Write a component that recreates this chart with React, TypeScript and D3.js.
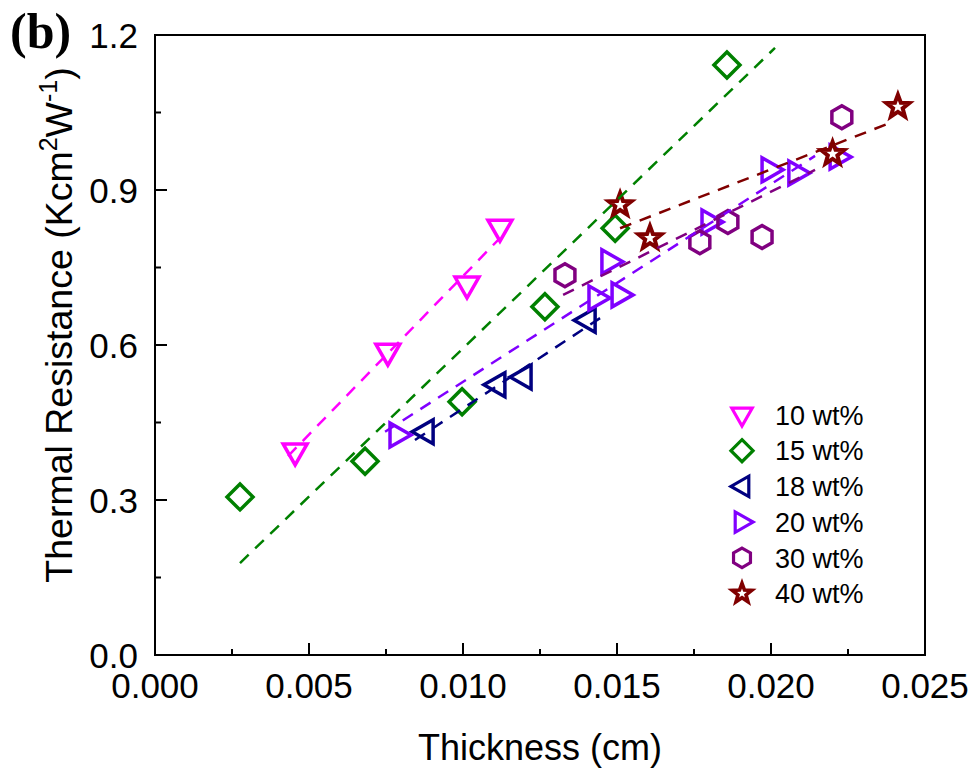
import React from 'react';
import * as d3 from 'd3';

// series: thickness (cm) vs thermal resistance (K cm^2 / W)
const seriesNames = ['10 wt%', '15 wt%', '18 wt%', '20 wt%', '30 wt%', '40 wt%'];

const t10 = [0.00455, 0.00756, 0.01013, 0.0112];
const r10 = [0.393, 0.586, 0.716, 0.826];

const t15 = [0.00276, 0.00682, 0.00997, 0.01266, 0.01494, 0.01857];
const r15 = [0.306, 0.375, 0.49, 0.674, 0.826, 1.142];

const t18 = [0.00877, 0.0111, 0.01195, 0.01403];
const r18 = [0.432, 0.523, 0.538, 0.648];

const t20 = [0.00789, 0.01435, 0.0151, 0.01477, 0.01802, 0.01997, 0.02084, 0.02218];
const r20 = [0.426, 0.691, 0.697, 0.761, 0.838, 0.939, 0.933, 0.964];

const t30 = [0.01331, 0.01769, 0.0186, 0.01971, 0.0223];
const r30 = [0.735, 0.799, 0.838, 0.809, 1.041];

const t40 = [0.0151, 0.01607, 0.022, 0.02412];
const r40 = [0.871, 0.807, 0.97, 1.061];

// dashed linear fits: [t start, t end], [r start, r end]
const fitT = [
  [0.00432, 0.0112],
  [0.00276, 0.02013],
  [0.00844, 0.01445],
  [0.00747, 0.02143],
  [0.01325, 0.02143],
  [0.0151, 0.02396],
];
const fitR = [
  [0.385, 0.807],
  [0.178, 1.175],
  [0.416, 0.652],
  [0.432, 0.966],
  [0.697, 0.939],
  [0.826, 1.032],
];

const xTicks = [0, 0.005, 0.01, 0.015, 0.02, 0.025];
const xMinor = [0.0025, 0.0075, 0.0125, 0.0175, 0.0225];
const yTicks = [0, 0.3, 0.6, 0.9, 1.2];
const yMinor = [0.15, 0.45, 0.75, 1.05];

const colors = ['#ff00ff', '#008000', '#000080', '#8000ff', '#800080', '#800000'];
const shapes = ['tri-down', 'diamond', 'tri-left', 'tri-right', 'hexagon', 'star'];

const W = 979;
const H = 771;
const left = 155, right = 925, top = 35, bottom = 655;
const font = 'Arial, "Liberation Sans", sans-serif';

const markerPath = (shape: string, s: number) => {
  if (shape === 'tri-down') return `M${-12 * s},${-8 * s}L${12 * s},${-8 * s}L0,${13 * s}Z`;
  if (shape === 'tri-left') return `M${8 * s},${-12 * s}L${8 * s},${12 * s}L${-13 * s},0Z`;
  if (shape === 'tri-right') return `M${-8 * s},${-12 * s}L${-8 * s},${12 * s}L${13 * s},0Z`;
  if (shape === 'diamond') return `M0,${-13 * s}L${13 * s},0L0,${13 * s}L${-13 * s},0Z`;
  if (shape === 'hexagon') {
    const pts = d3.range(6).map(i => {
      const a = -Math.PI / 2 + (i * Math.PI) / 3;
      return [Math.cos(a) * 11.5 * s, Math.sin(a) * 11.5 * s];
    });
    return 'M' + pts.map(p => p.join(',')).join('L') + 'Z';
  }
  // star
  const pts = d3.range(10).map(i => {
    const a = -Math.PI / 2 + (i * Math.PI) / 5;
    const r = i % 2 === 0 ? 12 * s : 5 * s;
    return [Math.cos(a) * r, Math.sin(a) * r];
  });
  return 'M' + pts.map(p => p.join(',')).join('L') + 'Z';
};

export default function App() {
  const x = d3.scaleLinear().domain([0, 0.025]).range([left, right]);
  const y = d3.scaleLinear().domain([0, 1.2]).range([bottom, top]);

  const ts = [t10, t15, t18, t20, t30, t40];
  const rs = [r10, r15, r18, r20, r30, r40];
  const line = d3.line<[number, number]>().x(d => x(d[0])).y(d => y(d[1]));

  return (
    <svg width={W} height={H} style={{ position: 'absolute', left: 0, top: 0, background: '#fff' }} fontFamily={font}>
      <rect width={W} height={H} fill="#fff" />

      {/* markers */}
      {ts.map((tArr, si) => (
        <g key={'s' + si}>
          {tArr.map((t, i) => (
            <path
              key={i}
              d={markerPath(shapes[si], 1)}
              transform={`translate(${x(t)},${y(rs[si][i])})`}
              fill={shapes[si] === 'star' ? '#fff' : 'none'}
              stroke={colors[si]}
              strokeWidth={shapes[si] === 'star' ? 4 : 3.5}
              strokeLinejoin="miter"
            />
          ))}
        </g>
      ))}

      {/* fit lines */}
      {fitT.map((ft, i) => (
        <path
          key={'f' + i}
          d={line([[ft[0], fitR[i][0]], [ft[1], fitR[i][1]]]) || ''}
          fill="none"
          stroke={colors[i]}
          strokeWidth={2.5}
          strokeDasharray="12,9"
        />
      ))}

      {/* frame */}
      <rect x={left} y={top} width={right - left} height={bottom - top} fill="none" stroke="#000" strokeWidth={2} />

      {/* x ticks */}
      {xTicks.map(t => (
        <g key={'xt' + t}>
          <line x1={x(t)} x2={x(t)} y1={bottom} y2={bottom - 12} stroke="#000" strokeWidth={2} />
          <text x={x(t)} y={698} textAnchor="middle" fontSize={35}>{d3.format('.3f')(t)}</text>
        </g>
      ))}
      {xMinor.map(t => (
        <line key={'xm' + t} x1={x(t)} x2={x(t)} y1={bottom} y2={bottom - 6} stroke="#000" strokeWidth={2} />
      ))}

      {/* y ticks */}
      {yTicks.map(t => (
        <g key={'yt' + t}>
          <line x1={left} x2={left + 12} y1={y(t)} y2={y(t)} stroke="#000" strokeWidth={2} />
          <text x={138} y={y(t)} dy="0.36em" textAnchor="end" fontSize={35}>{d3.format('.1f')(t)}</text>
        </g>
      ))}
      {yMinor.map(t => (
        <line key={'ym' + t} x1={left} x2={left + 6} y1={y(t)} y2={y(t)} stroke="#000" strokeWidth={2} />
      ))}

      {/* axis titles */}
      <text x={(left + right) / 2} y={760} textAnchor="middle" fontSize={36}>Thickness (cm)</text>
      <text transform="translate(72,325) rotate(-90)" textAnchor="middle" fontSize={37.5}>
        Thermal Resistance (Kcm<tspan dy={-15} fontSize={25}>2</tspan>
        <tspan dy={15}>W</tspan>
        <tspan dy={-15} fontSize={25}>-1</tspan>
        <tspan dy={15}>)</tspan>
      </text>

      {/* panel label */}
      <text x={10} y={48} fontSize={50} fontWeight="bold" fontFamily='"Times New Roman", "Liberation Serif", serif'>(b)</text>

      {/* legend */}
      {seriesNames.map((name, i) => {
        const ly = 415 + i * 35.7;
        return (
          <g key={'l' + i}>
            <path
              d={markerPath(shapes[i], 0.85)}
              transform={`translate(742,${ly})`}
              fill={shapes[i] === 'star' ? '#fff' : 'none'}
              stroke={colors[i]}
              strokeWidth={shapes[i] === 'star' ? 3.6 : 3.2}
            />
            <text x={775} y={ly} dy="0.36em" fontSize={27}>{name}</text>
          </g>
        );
      })}
    </svg>
  );
}
